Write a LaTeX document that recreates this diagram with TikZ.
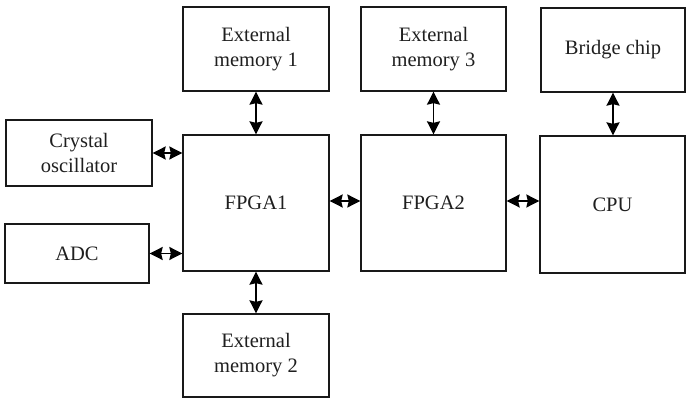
\documentclass[tikz,border=0pt]{standalone}
\usepackage{fontspec}
\setmainfont{Liberation Serif}
\usetikzlibrary{arrows.meta}
\begin{document}
\begin{tikzpicture}[x=1pt,y=1pt,
  blk/.style={draw=black!90, line width=1.3pt, minimum width=#1, inner sep=0pt, align=center,
    font=\fontsize{20.5}{25}\selectfont, text=black!88},
  link/.style={line width=1.6pt, {Stealth[length=13pt,width=13pt,inset=1.5pt]}-{Stealth[length=13pt,width=13pt,inset=1.5pt]}}]
\useasboundingbox (0,0) rectangle (688,399);
\node[blk=146pt, minimum height=84pt] (em1) at (256,350) {External\\memory 1};
\node[blk=145pt, minimum height=84pt] (em3) at (433.5,350) {External\\memory 3};
\node[blk=144pt, minimum height=84pt] (br) at (613,349) {Bridge chip};
\node[blk=146pt, minimum height=66pt] (cr) at (79,246) {Crystal\\oscillator};
\node[blk=146pt, minimum height=136pt] (f1) at (256,196) {FPGA1};
\node[blk=145pt, minimum height=136pt] (f2) at (433.5,196) {FPGA2};
\node[blk=145pt, minimum height=137pt] (cpu) at (612.5,194.5) {CPU};
\node[blk=144pt, minimum height=59pt] (adc) at (77,145.5) {ADC};
\node[blk=146pt, minimum height=83pt] (em2) at (256,43.5) {External\\memory 2};
\draw[link] (em1.south) -- (f1.north);
\draw[link] (em3.south) -- (f2.north);
\draw[link] (br.south) -- (br.south |- cpu.north);
\draw[link] (cr.east) -- (cr.east -| f1.west);
\draw[link] (adc.east) -- (adc.east -| f1.west);
\draw[link] (f1.south) -- (em2.north);
\draw[link] ([yshift=2pt]f1.east) -- ([yshift=2pt]f2.west);
\draw[link] ([yshift=2pt]f2.east) -- ([yshift=2pt]f2.east -| cpu.west);
\end{tikzpicture}
\end{document}
